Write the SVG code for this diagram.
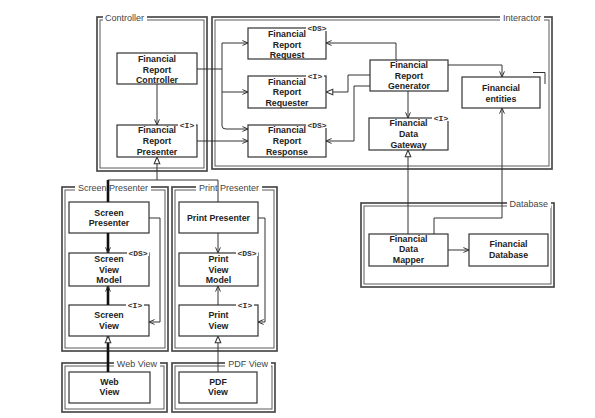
<svg xmlns="http://www.w3.org/2000/svg" width="595" height="418" viewBox="0 0 595 418">
<defs>
<style>
.cont{fill:none;stroke:#4a4a4a;stroke-width:1.7}
.conti{fill:none;stroke:#5a5a5a;stroke-width:1}
.box{fill:#fff;stroke:#333;stroke-width:1.2}
.t{font-family:"Liberation Sans",Arial,sans-serif;font-size:8.8px;font-weight:bold;fill:#222;text-anchor:middle}
.cl{font-family:"Liberation Sans",Arial,sans-serif;font-size:9px;fill:#444}
.st{font-family:"Liberation Mono","Courier New",monospace;font-size:8px;font-weight:bold;fill:#333;text-anchor:middle}
.bg{fill:#fff}
.ln{fill:none;stroke:#333;stroke-width:1}
.thick{fill:none;stroke:#111;stroke-width:2.6}
</style>
<marker id="arr" viewBox="0 0 10 10" refX="9" refY="5" markerWidth="7" markerHeight="7" orient="auto" markerUnits="userSpaceOnUse">
<path d="M1,1.5 L9,5 L1,8.5" fill="none" stroke="#333" stroke-width="1.4"/>
</marker>
<marker id="tri" viewBox="0 0 10 10" refX="9.5" refY="5" markerWidth="8" markerHeight="8" orient="auto" markerUnits="userSpaceOnUse">
<path d="M1,1.5 L9.5,5 L1,8.5 Z" fill="#fff" stroke="#333" stroke-width="1.3"/>
</marker>
</defs>
<rect width="595" height="418" fill="#fff"/>

<!-- containers -->
<g id="controller-pkg">
<rect class="cont" x="97" y="17" width="110" height="154"/>
<rect class="conti" x="100" y="20" width="104" height="148"/>
<rect class="bg" x="103" y="13" width="44" height="9"/>
<text class="cl" x="105" y="20.5">Controller</text>
</g>
<g id="interactor-pkg">
<rect class="cont" x="212" y="17" width="340" height="152"/>
<rect class="conti" x="215" y="20" width="334" height="146"/>
<rect class="bg" x="500" y="13" width="44" height="9"/>
<text class="cl" x="541" y="20.5" text-anchor="end">Interactor</text>
</g>
<g id="screen-presenter-pkg">
<rect class="cont" x="62" y="187" width="106" height="164"/>
<rect class="conti" x="65" y="190" width="100" height="158"/>
<rect class="bg" x="75" y="183" width="76" height="9"/>
<text class="cl" x="78" y="190.5">Screen Presenter</text>
</g>
<g id="print-presenter-pkg">
<rect class="cont" x="172" y="187" width="105" height="164"/>
<rect class="conti" x="175" y="190" width="99" height="158"/>
<rect class="bg" x="196" y="183" width="66" height="9"/>
<text class="cl" x="199" y="190.5">Print Presenter</text>
</g>
<g id="web-view-pkg">
<rect class="cont" x="62" y="363" width="105" height="49"/>
<rect class="conti" x="65" y="366" width="99" height="43"/>
<rect class="bg" x="114" y="359" width="46" height="9"/>
<text class="cl" x="157" y="366.5" text-anchor="end">Web View</text>
</g>
<g id="pdf-view-pkg">
<rect class="cont" x="172" y="363" width="103" height="49"/>
<rect class="conti" x="175" y="366" width="97" height="43"/>
<rect class="bg" x="225" y="359" width="46" height="9"/>
<text class="cl" x="268" y="366.5" text-anchor="end">PDF View</text>
</g>
<g id="database-pkg">
<rect class="cont" x="361" y="203" width="193" height="84"/>
<rect class="conti" x="364" y="206" width="187" height="78"/>
<rect class="bg" x="507" y="199" width="44" height="9"/>
<text class="cl" x="548" y="206.5" text-anchor="end">Database</text>
</g>

<!-- nodes -->
<g id="frc">
<rect class="box" x="117" y="53" width="80" height="31"/>
<text class="t" x="157" y="62">Financial</text>
<text class="t" x="157" y="72.5">Report</text>
<text class="t" x="157" y="83">Controller</text>
</g>
<g id="frp">
<rect class="box" x="117" y="125" width="80" height="32"/>
<text class="t" x="157" y="133">Financial</text>
<text class="t" x="157" y="144">Report</text>
<text class="t" x="157" y="154.5">Presenter</text>
<rect class="bg" x="178" y="121" width="18" height="7"/>
<text class="st" x="187" y="128">&lt;I&gt;</text>
</g>
<g id="request">
<rect class="box" x="248" y="28" width="78" height="31"/>
<text class="t" x="287" y="37">Financial</text>
<text class="t" x="287" y="47.5">Report</text>
<text class="t" x="287" y="57.5">Request</text>
<rect class="bg" x="306" y="24" width="22" height="7"/>
<text class="st" x="317" y="30.5">&lt;DS&gt;</text>
</g>
<g id="requester">
<rect class="box" x="248" y="76" width="78" height="32"/>
<text class="t" x="287" y="84.5">Financial</text>
<text class="t" x="287" y="95">Report</text>
<text class="t" x="287" y="105.5">Requester</text>
<rect class="bg" x="306" y="72" width="18" height="7"/>
<text class="st" x="315" y="79">&lt;I&gt;</text>
</g>
<g id="response">
<rect class="box" x="248" y="125" width="78" height="32"/>
<text class="t" x="287" y="133">Financial</text>
<text class="t" x="287" y="144">Report</text>
<text class="t" x="287" y="154.5">Response</text>
<rect class="bg" x="306" y="121" width="22" height="7"/>
<text class="st" x="317" y="127.5">&lt;DS&gt;</text>
</g>
<g id="generator">
<rect class="box" x="370" y="60" width="78" height="31"/>
<text class="t" x="409" y="68">Financial</text>
<text class="t" x="409" y="78.5">Report</text>
<text class="t" x="409" y="89">Generator</text>
</g>
<g id="gateway">
<rect class="box" x="369" y="118" width="79" height="32"/>
<text class="t" x="408.5" y="126">Financial</text>
<text class="t" x="408.5" y="137">Data</text>
<text class="t" x="408.5" y="147.5">Gateway</text>
<rect class="bg" x="432" y="114" width="18" height="7"/>
<text class="st" x="441" y="121">&lt;I&gt;</text>
</g>
<g id="entities">
<rect class="box" x="462" y="77" width="78" height="31"/>
<polyline class="ln" points="533,72.5 545,72.5 545,84"/>
<text class="t" x="501" y="91">Financial</text>
<text class="t" x="501" y="101.5">entities</text>
</g>
<g id="mapper">
<rect class="box" x="369" y="234" width="79" height="32"/>
<text class="t" x="408.5" y="241.5">Financial</text>
<text class="t" x="408.5" y="252">Data</text>
<text class="t" x="408.5" y="262.5">Mapper</text>
</g>
<g id="findb">
<rect class="box" x="469" y="234" width="79" height="32"/>
<text class="t" x="508.5" y="247">Financial</text>
<text class="t" x="508.5" y="257.5">Database</text>
</g>
<g id="screen-presenter">
<rect class="box" x="69" y="202" width="80" height="31"/>
<text class="t" x="109" y="215.5">Screen</text>
<text class="t" x="109" y="226">Presenter</text>
</g>
<g id="screen-view-model">
<rect class="box" x="69" y="253" width="80" height="33"/>
<text class="t" x="109" y="262">Screen</text>
<text class="t" x="109" y="272.5">View</text>
<text class="t" x="109" y="283">Model</text>
<rect class="bg" x="127" y="249" width="22" height="7"/>
<text class="st" x="138" y="255.5">&lt;DS&gt;</text>
</g>
<g id="screen-view">
<rect class="box" x="69" y="305" width="80" height="31"/>
<text class="t" x="109" y="318">Screen</text>
<text class="t" x="109" y="328.5">View</text>
<rect class="bg" x="126" y="301" width="18" height="7"/>
<text class="st" x="135" y="308">&lt;I&gt;</text>
</g>
<g id="print-presenter">
<rect class="box" x="179" y="202" width="79" height="31"/>
<text class="t" x="218.5" y="220.5">Print Presenter</text>
</g>
<g id="print-view-model">
<rect class="box" x="179" y="253" width="79" height="33"/>
<text class="t" x="218.5" y="262">Print</text>
<text class="t" x="218.5" y="272.5">View</text>
<text class="t" x="218.5" y="283">Model</text>
<rect class="bg" x="236" y="249" width="22" height="7"/>
<text class="st" x="247" y="255.5">&lt;DS&gt;</text>
</g>
<g id="print-view">
<rect class="box" x="179" y="305" width="79" height="31"/>
<text class="t" x="218.5" y="318">Print</text>
<text class="t" x="218.5" y="328.5">View</text>
<rect class="bg" x="236" y="301" width="18" height="7"/>
<text class="st" x="245" y="308">&lt;I&gt;</text>
</g>
<g id="web-view">
<rect class="box" x="69" y="372" width="81" height="31"/>
<text class="t" x="109.5" y="384.5">Web</text>
<text class="t" x="109.5" y="395">View</text>
</g>
<g id="pdf-view">
<rect class="box" x="179" y="372" width="78" height="31"/>
<text class="t" x="218" y="384.5">PDF</text>
<text class="t" x="218" y="395">View</text>
</g>

<!-- connectors -->
<g id="connectors">
<path class="ln" d="M157,84 L157,125" marker-end="url(#arr)"/>
<path class="ln" d="M197,69 L222,69"/>
<path class="ln" d="M222,43 L222,126 Q222,129 226,129 L248,129" marker-end="url(#arr)"/>
<path class="ln" d="M222,43 L248,43" marker-end="url(#arr)"/>
<path class="ln" d="M222,92 L248,92" marker-end="url(#arr)"/>
<path class="ln" d="M197,141 L248,141" marker-end="url(#arr)"/>
<path class="ln" d="M396,60 L396,43 L326,43" marker-end="url(#arr)"/>
<path class="ln" d="M370,75 L348,75 L348,92 L326,92" marker-end="url(#tri)"/>
<path class="ln" d="M370,86 L354,86 L354,141 L326,141" marker-end="url(#arr)"/>
<path class="ln" d="M408,91 L408,118" marker-end="url(#arr)"/>
<path class="ln" d="M448,65 L502,65 L502,77" marker-end="url(#arr)"/>
<path class="ln" d="M408,234 L408,150" marker-end="url(#tri)"/>
<path class="ln" d="M434,234 L434,218 L502,218 L502,108" marker-end="url(#arr)"/>
<path class="ln" d="M448,250 L469,250" marker-end="url(#arr)"/>
<path class="ln" d="M108,180 L218,180 L218,202"/>
<path class="ln" d="M157,180 L157,157" marker-end="url(#tri)"/>
<path class="thick" d="M108,180 L108,202"/>
<path class="thick" d="M108,233 L108,253" marker-end="url(#arr)"/>
<path class="thick" d="M108,305 L108,286" marker-end="url(#arr)"/>
<path class="ln" d="M149,218 L160,218 L160,322 L149,322" marker-end="url(#arr)"/>
<path class="thick" d="M108,372 L108,336" marker-end="url(#tri)"/>
<path class="ln" d="M218,233 L218,253" marker-end="url(#arr)"/>
<path class="ln" d="M218,305 L218,286" marker-end="url(#arr)"/>
<path class="ln" d="M258,218 L265,218 L265,322 L258,322" marker-end="url(#arr)"/>
<path class="ln" d="M218,372 L218,336" marker-end="url(#tri)"/>
</g>
</svg>
